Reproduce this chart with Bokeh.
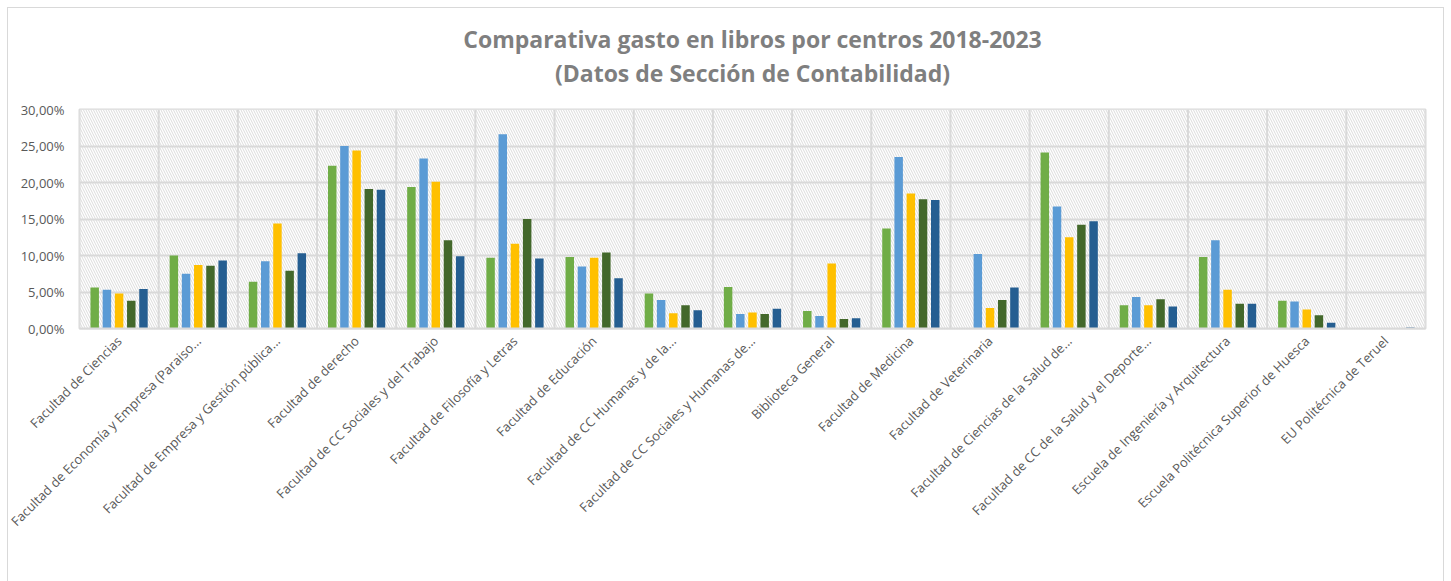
from bokeh.plotting import figure
from bokeh.models import (ColumnDataSource, FactorRange, Range1d, Span, BoxAnnotation,
                          Legend, LegendItem, Title, CustomJSTickFormatter, FixedTicker)
from bokeh.transform import dodge
from bokeh.embed import file_html
from bokeh.resources import INLINE
import math

centros = [
    "Facultad de Ciencias",
    "Facultad de Economía y Empresa (Paraiso...",
    "Facultad de Empresa y Gestión pública...",
    "Facultad de derecho",
    "Facultad de CC Sociales y del Trabajo",
    "Facultad de Filosofía y Letras",
    "Facultad de Educación",
    "Facultad de CC Humanas y de la...",
    "Facultad de CC Sociales y Humanas de...",
    "Biblioteca General",
    "Facultad de Medicina",
    "Facultad de Veterinaria",
    "Facultad de Ciencias de la Salud de...",
    "Facultad de CC de la Salud y el Deporte...",
    "Escuela de Ingeniería y Arquitectura",
    "Escuela Politécnica Superior de Huesca",
    "EU Politécnica de Teruel",
]
anios = ["2018", "2019", "2021", "2022", "2023"]
v2018 = [5.6, 10.0, 6.4, 22.3, 19.4, 9.7, 9.8, 4.8, 5.7, 2.4, 13.7, 0.0, 24.1, 3.2, 9.8, 3.8, 0.0]
v2019 = [5.3, 7.5, 9.2, 25.0, 23.3, 26.6, 8.5, 3.9, 2.0, 1.7, 23.5, 10.2, 16.7, 4.3, 12.1, 3.7, 0.0]
v2021 = [4.8, 8.7, 14.4, 24.4, 20.1, 11.6, 9.7, 2.1, 2.2, 8.9, 18.5, 2.8, 12.5, 3.2, 5.3, 2.6, 0.0]
v2022 = [3.8, 8.6, 7.9, 19.1, 12.1, 15.0, 10.4, 3.2, 2.0, 1.3, 17.7, 3.9, 14.2, 4.0, 3.4, 1.8, 0.0]
v2023 = [5.4, 9.3, 10.3, 19.0, 9.9, 9.6, 6.9, 2.5, 2.7, 1.4, 17.6, 5.6, 14.7, 3.0, 3.4, 0.8, 0.15]
y_ticks = [0, 5, 10, 15, 20, 25, 30]
colores = ["#70AD47", "#5B9BD5", "#FFC000", "#43682B", "#255E91"]

titulo = "Comparativa gasto en libros por centros 2018-2023"
subtitulo = "(Datos de Sección de Contabilidad)"

src = ColumnDataSource(data=dict(centro=centros, v2018=v2018, v2019=v2019,
                                 v2021=v2021, v2022=v2022, v2023=v2023))

FONT = "Open Sans"
GRAY_TXT = "#595959"
GRID = "#d9d9d9"

p = figure(x_range=FactorRange(*centros), y_range=Range1d(0, 30),
           frame_width=1346, frame_height=219, output_backend="svg", toolbar_location=None,
           title=None, min_border_left=71, min_border_right=18,
           min_border_top=101, min_border_bottom=0)
p.styles = {"border": "1px solid #d9d9d9", "margin": "7px 0px 0px 7px"}

p.add_layout(Title(text=subtitulo, align="center", text_font=FONT,
                   text_font_size="23px", text_font_style="bold",
                   text_color="#7f7f7f", standoff=42), "above")
p.add_layout(Title(text=titulo, align="center", text_font=FONT,
                   text_font_size="23px", text_font_style="bold",
                   text_color="#7f7f7f", standoff=-43), "above")

# hatched plot background
p.add_layout(BoxAnnotation(fill_color="white", fill_alpha=1.0, line_color=None,
                           hatch_pattern="\\", hatch_color="#d2d2d2", hatch_scale=5,
                           hatch_weight=1, hatch_alpha=0.8, level="image"))

p.xgrid.grid_line_color = None
p.ygrid.grid_line_color = GRID
p.ygrid.grid_line_width = 2
p.ygrid.ticker = FixedTicker(ticks=y_ticks)
for i in range(len(centros) + 1):
    p.add_layout(Span(location=i, dimension="height", line_color=GRID, line_width=2,
                      level="underlay"))

p.outline_line_color = GRID
p.outline_line_width = 2
p.background_fill_color = "white"

offsets = [-0.308, -0.154, 0.0, 0.154, 0.308]
items = []
for anio, off, col in zip(anios, offsets, colores):
    r = p.vbar(x=dodge("centro", off, range=p.x_range), top="v" + anio, width=0.107,
               source=src, fill_color=col, line_color=None)
    items.append(LegendItem(label=anio, renderers=[r]))

p.yaxis.ticker = FixedTicker(ticks=y_ticks)
p.yaxis.formatter = CustomJSTickFormatter(code="return tick.toFixed(2).replace('.', ',') + '%';")
p.yaxis.axis_line_color = None
p.yaxis.major_tick_line_color = None
p.yaxis.minor_tick_line_color = None
p.yaxis.major_tick_out = 0
p.yaxis.major_label_standoff = 15
p.yaxis.major_label_text_font = FONT
p.yaxis.major_label_text_font_size = "13px"
p.yaxis.major_label_text_color = GRAY_TXT

p.xaxis.axis_line_color = GRID
p.xaxis.axis_line_width = 2
p.xaxis.major_tick_line_color = None
p.xaxis.major_tick_out = 0
p.xaxis.major_label_orientation = math.pi / 4
p.xaxis.major_label_standoff = 10
p.xaxis.major_label_text_font = FONT
p.xaxis.major_label_text_font_size = "13px"
p.xaxis.major_label_text_color = GRAY_TXT

legend = Legend(items=items, orientation="horizontal", location=(462, 52),
                border_line_color=None, background_fill_alpha=0,
                label_text_font=FONT, label_text_font_size="13px",
                label_text_color=GRAY_TXT, glyph_width=7, glyph_height=7,
                label_standoff=3, label_width=31, spacing=19, margin=0, padding=5)
p.add_layout(legend, "below")

open("out.html", "w").write(file_html(p, INLINE))
